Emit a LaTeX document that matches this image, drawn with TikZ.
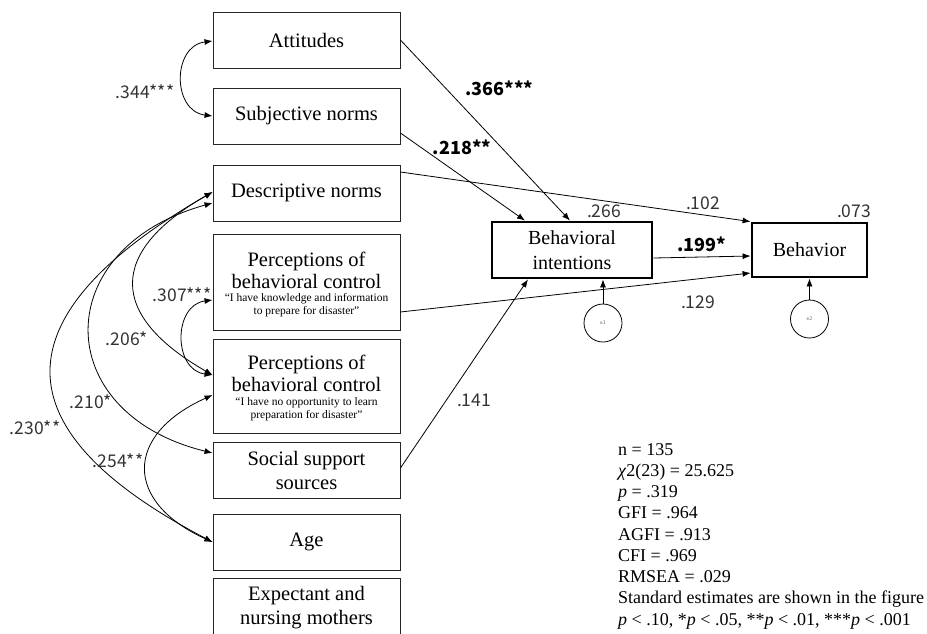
\documentclass[tikz,border=0pt]{standalone}
\usepackage{fontspec}
\setmainfont{Liberation Serif}
\newfontfamily\numfont{Noto Sans CJK JP}
\usetikzlibrary{arrows.meta}
\begin{document}
\begin{tikzpicture}[x=1pt,y=-1pt,
  lbox/.style={draw=black!85, line width=0.9pt, minimum width=187pt, inner sep=0pt, align=center, font=\fontsize{20.5}{24}\selectfont},
  mbox/.style={draw, line width=2.8pt, inner sep=0pt, align=center, font=\fontsize{20}{25}\selectfont},
  txt/.style={inner sep=0pt, align=center, font=\fontsize{20.5}{22}\selectfont},
  quotetxt/.style={inner sep=0pt, align=center, font=\fontsize{11.5}{13.5}\selectfont},
  coef/.style={inner sep=0pt, text=black!80, font=\numfont\fontsize{17.5}{20}\selectfont},
  bcoef/.style={inner sep=0pt, text=black, font=\numfont\bfseries\fontsize{18}{20}\selectfont},
  errc/.style={circle, draw, line width=0.8pt, minimum size=38pt, inner sep=0pt, text=black!60, font=\sffamily\fontsize{5.5}{6}\selectfont},
  pathc/.style={line width=0.8pt, -{Latex[length=8pt,width=6pt]}},
  covc/.style={line width=0.8pt, {Latex[length=8pt,width=6pt]}-{Latex[length=8pt,width=6pt]}},
  stats/.style={inner sep=0pt, align=left, font=\fontsize{18}{21.25}\selectfont}
]
\useasboundingbox (0,0) rectangle (927,633);
\clip (0,0) rectangle (927,633);

% left column
\node[lbox, minimum height=56pt] (att) at (306.5,40) {Attitudes};
\node[lbox, minimum height=56pt] (subj) at (306.5,116) {Subjective norms};
\node[lbox, minimum height=56pt] (desc) at (306.5,193) {Descriptive norms};
\node[lbox, minimum height=96pt] (pbc1) at (306.5,282) {};
\node[txt] (pbc1a) at (306.5,270) {Perceptions of\\behavioral control};
\node[quotetxt] (pbc1b) at (306.5,305) {“I have knowledge and information\\to prepare for disaster”};
\node[lbox, minimum height=94pt] (pbc2) at (306.5,386) {};
\node[txt] (pbc2a) at (306.5,373.5) {Perceptions of\\behavioral control};
\node[quotetxt] (pbc2b) at (306.5,409) {“I have no opportunity to learn\\preparation for disaster”};
\node[lbox, minimum height=56pt] (soc) at (306.5,470) {Social support\\sources};
\node[lbox, minimum height=56pt] (age) at (306.5,542) {Age};
\node[lbox, minimum height=60pt] (exp) at (306.5,608) {Expectant and\\nursing mothers};

% right side
\node[mbox, minimum width=160pt, minimum height=56pt] (bi) at (572,250) {Behavioral\\intentions};
\node[mbox, minimum width=115pt, minimum height=54pt] (beh) at (809.5,250) {Behavior};
\node[errc] (e1) at (603,323) {e1};
\node[errc] (e2) at (809.5,319) {e2};

% paths
\draw[pathc] (e1.north) -- (e1.north |- bi.south);
\draw[pathc] (e2.north) -- (e2.north |- beh.south);
\draw[pathc] (att.east) -- ([xshift=-2pt]bi.north);
\draw[pathc] ([yshift=-17pt]subj.east) -- ([xshift=-47pt]bi.north);
\draw[pathc] ([yshift=21pt]desc.east) -- (beh.north west);
\draw[pathc] ([yshift=-8pt]bi.east) -- ([yshift=-6pt]beh.west);
\draw[pathc] ([yshift=-30pt]pbc1.east) -- ([yshift=-23pt]beh.west);
\draw[pathc] ([yshift=2pt]soc.east) -- ([xshift=-44pt]bi.south);

% covariances
\draw[covc] ([yshift=-1pt]att.west) .. controls (172,46) and (172,111) .. (subj.west);
\draw[covc] ([yshift=-18pt]pbc1.west) .. controls (173,305) and (173,370) .. ([yshift=11pt]pbc2.west);
\draw[covc] ([yshift=1pt]desc.west) .. controls (108,252) and (108,315) .. ([yshift=11pt]pbc2.west);
\draw[covc] ([yshift=-10pt]desc.west) .. controls (49,248) and (49,413) .. ([yshift=17pt]soc.west);
\draw[covc] ([yshift=1pt]desc.west) .. controls (-2,316) and (-2,430) .. (age.west);
\draw[covc] ([yshift=-9pt]pbc2.west) .. controls (124,435) and (124,502) .. (age.west);

% coefficients
\node[coef] (c344) at (145,92) {.344***};
\node[bcoef] (c366) at (499.5,88) {.366***};
\node[bcoef] (c218) at (462,147) {.218**};
\node[coef] (c266) at (604,211) {.266};
\node[coef] (c102) at (703,203) {.102};
\node[coef] (c073) at (854,211) {.073};
\node[bcoef] (c199) at (702,244) {.199*};
\node[coef] (c129) at (698,302) {.129};
\node[coef] (c141) at (474,400) {.141};
\node[coef] (c307) at (182,295) {.307***};
\node[coef] (c206) at (127,339) {.206*};
\node[coef] (c210) at (91,402) {.210*};
\node[coef] (c230) at (35,428) {.230**};
\node[coef] (c254) at (118,461) {.254**};

% fit statistics
\node[stats, anchor=north west] (fit) at (618,443) {n = 135\\
\textit{χ}2(23) = 25.625\\
\textit{p} = .319\\
GFI = .964\\
AGFI = .913\\
CFI = .969\\
RMSEA = .029\\
Standard estimates are shown in the figure\\
\textit{p} < .10, *\textit{p} < .05, **\textit{p} < .01, ***\textit{p} < .001};
\end{tikzpicture}
\end{document}
